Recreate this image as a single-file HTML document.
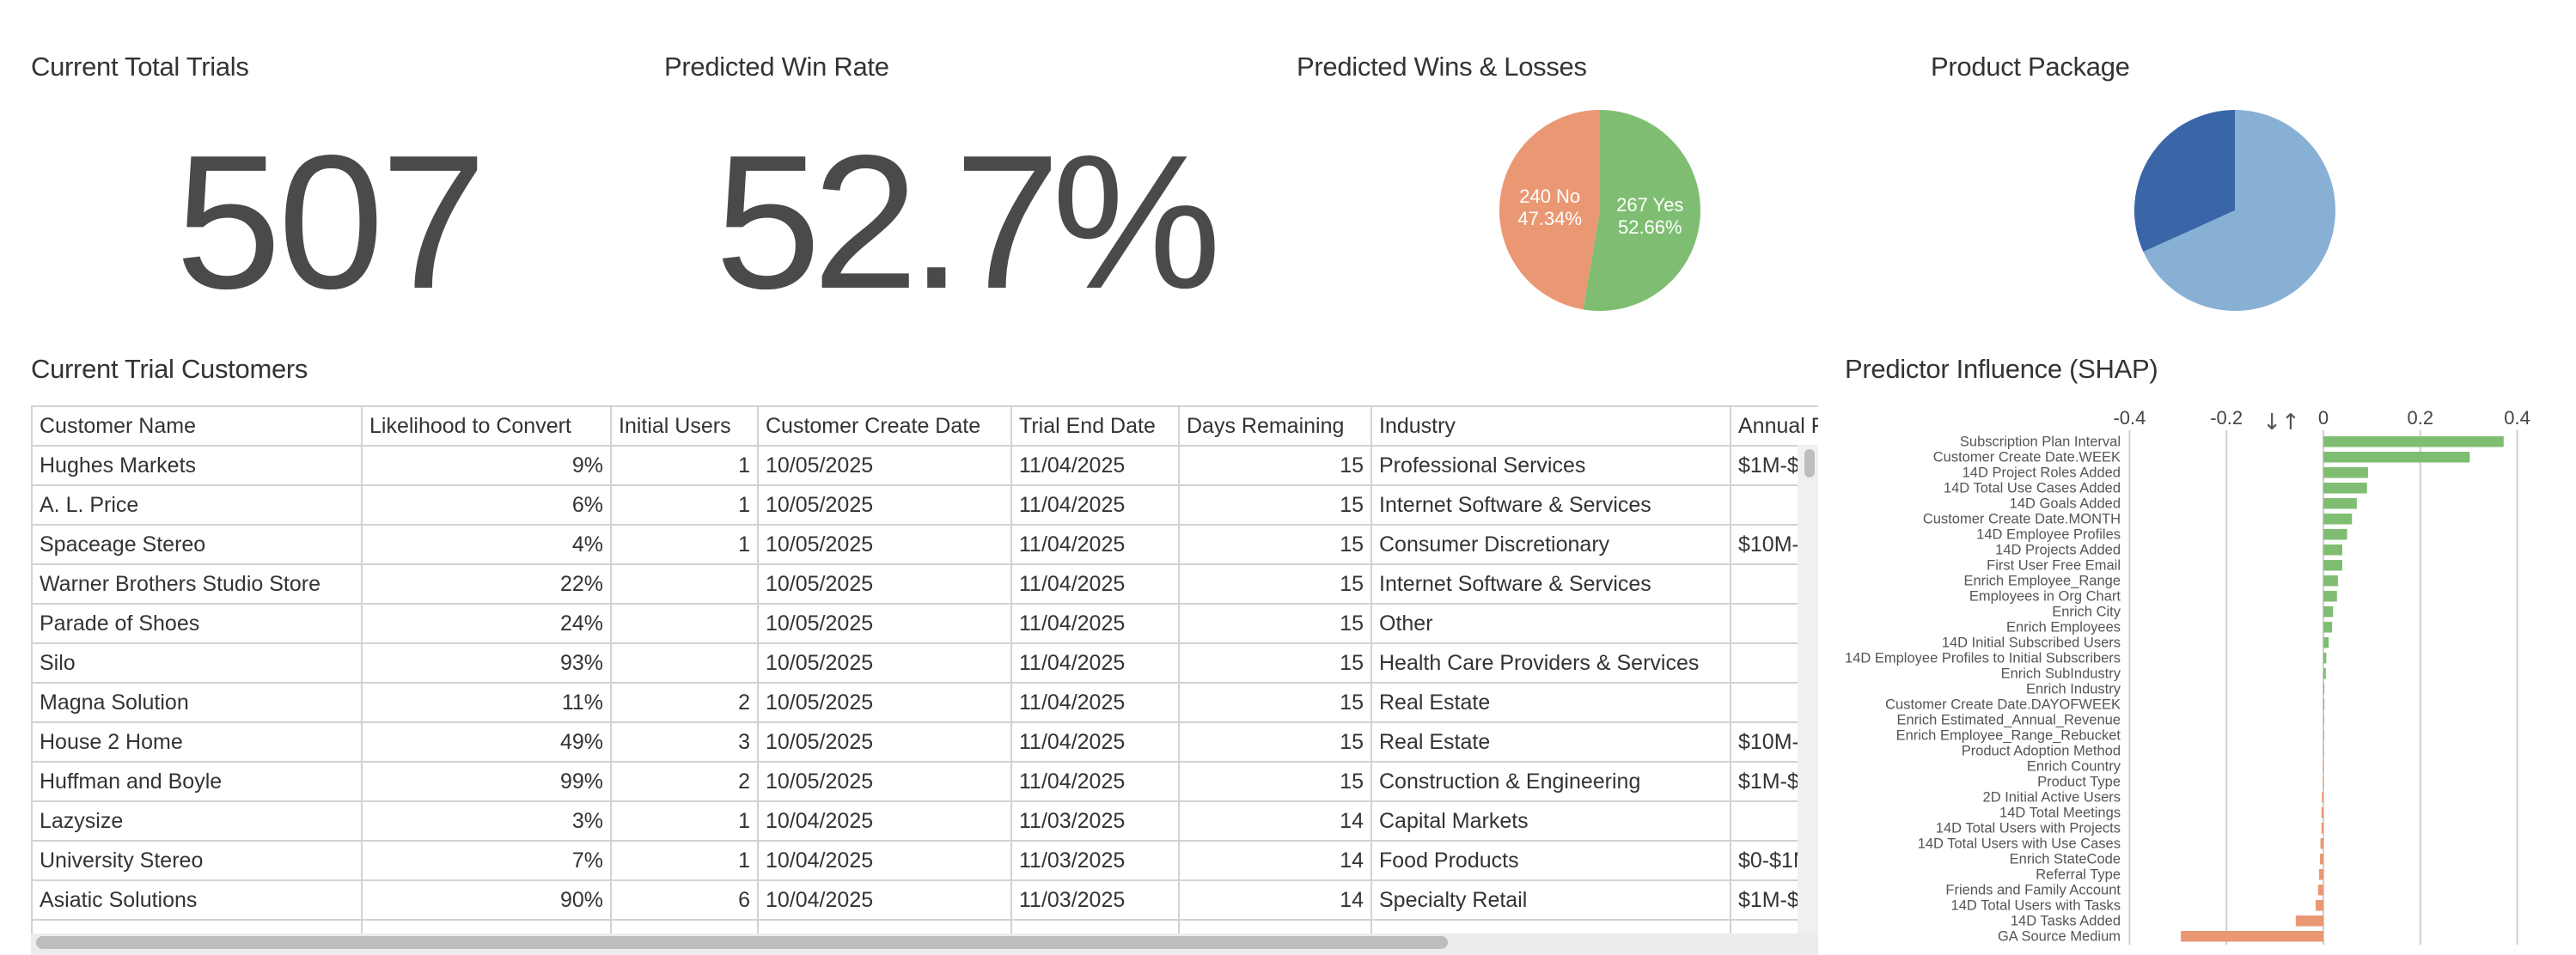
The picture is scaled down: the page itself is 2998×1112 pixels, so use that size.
<!DOCTYPE html>
<html><head><meta charset="utf-8">
<style>
html,body{margin:0;padding:0;background:#fff;width:2998px;height:1112px;overflow:hidden;font-family:"Liberation Sans",sans-serif;color:#333}
.abs{position:absolute}
.title{position:absolute;font-size:31px;color:#333;white-space:nowrap;letter-spacing:-0.3px}
.big{position:absolute;font-size:222px;color:#4a4a4a;line-height:1;white-space:nowrap;letter-spacing:-4px}
#tablewrap{position:absolute;left:36px;top:472px;width:2080px;height:640px;overflow:hidden;background:#fff}
table{border-collapse:collapse;table-layout:fixed;width:2180px;font-size:25px;color:#333}
td,th{border:2px solid #d2d2d2;height:44px;padding:0 8px;white-space:nowrap;overflow:hidden;font-weight:normal;text-align:left}
th{color:#333}
td.r{text-align:right}
</style></head><body>
<div class="title" style="left:36px;top:60px">Current Total Trials</div>
<div class="big" style="left:204px;top:148px">507</div>
<div class="title" style="left:773px;top:60px">Predicted Win Rate</div>
<div class="big" style="left:832px;top:148px;letter-spacing:-10px">52.7%</div>
<div class="title" style="left:1509px;top:60px">Predicted Wins &amp; Losses</div>
<div class="title" style="left:2247px;top:60px">Product Package</div>
<div class="title" style="left:36px;top:412px">Current Trial Customers</div>
<div class="title" style="left:2147px;top:412px">Predictor Influence (SHAP)</div>

<svg class="abs" style="left:0;top:0" width="2998" height="1112" id="charts"></svg>

<div id="tablewrap">
<table id="tbl">
<colgroup><col style="width:384px"><col style="width:290px"><col style="width:171px"><col style="width:295px"><col style="width:195px"><col style="width:224px"><col style="width:418px"><col style="width:203px"></colgroup>
<thead><tr>
<th>Customer Name</th>
<th>Likelihood to Convert</th>
<th>Initial Users</th>
<th>Customer Create Date</th>
<th>Trial End Date</th>
<th>Days Remaining</th>
<th>Industry</th>
<th>Annual Revenue</th>
</tr></thead>
<tbody id="tbody"></tbody>
</table>
</div>
<div class="abs" style="left:2092px;top:518px;width:24px;height:570px;background:#f0f0f0"></div>
<div class="abs" style="left:2100px;top:523px;width:12px;height:33px;background:#bdbdbd;border-radius:6px"></div>
<div class="abs" style="left:36px;top:1087px;width:2080px;height:25px;background:#ececec"></div>
<div class="abs" style="left:42px;top:1090px;width:1643px;height:15px;background:#bdbdbd;border-radius:8px"></div>

<script>
const rows = [
["Hughes Markets","9%","1","10/05/2025","11/04/2025","15","Professional Services","$1M-$10M"],
["A. L. Price","6%","1","10/05/2025","11/04/2025","15","Internet Software & Services",""],
["Spaceage Stereo","4%","1","10/05/2025","11/04/2025","15","Consumer Discretionary","$10M-$50M"],
["Warner Brothers Studio Store","22%","","10/05/2025","11/04/2025","15","Internet Software & Services",""],
["Parade of Shoes","24%","","10/05/2025","11/04/2025","15","Other",""],
["Silo","93%","","10/05/2025","11/04/2025","15","Health Care Providers & Services",""],
["Magna Solution","11%","2","10/05/2025","11/04/2025","15","Real Estate",""],
["House 2 Home","49%","3","10/05/2025","11/04/2025","15","Real Estate","$10M-$50M"],
["Huffman and Boyle","99%","2","10/05/2025","11/04/2025","15","Construction & Engineering","$1M-$10M"],
["Lazysize","3%","1","10/04/2025","11/03/2025","14","Capital Markets",""],
["University Stereo","7%","1","10/04/2025","11/03/2025","14","Food Products","$0-$1M"],
["Asiatic Solutions","90%","6","10/04/2025","11/03/2025","14","Specialty Retail","$1M-$10M"],
["","","","","","","",""]
];
const tb = document.getElementById('tbody');
rows.forEach((r,i)=>{
  const tr=document.createElement('tr');
  
  
  r.forEach((v,j)=>{
    const td=document.createElement('td');
    
    
    if(j==1||j==2||j==5) td.className='r';
    td.textContent=v;
    tr.appendChild(td);
  });
  tb.appendChild(tr);
});

const winLabels = ["Yes","No"];
const winValues = [267,240];
const pkgLabels = ["Package A","Package B"];
const pkgValues = [346,161];
const shapFeatures = ["Subscription Plan Interval","Customer Create Date.WEEK","14D Project Roles Added","14D Total Use Cases Added","14D Goals Added","Customer Create Date.MONTH","14D Employee Profiles","14D Projects Added","First User Free Email","Enrich Employee_Range","Employees in Org Chart","Enrich City","Enrich Employees","14D Initial Subscribed Users","14D Employee Profiles to Initial Subscribers","Enrich SubIndustry","Enrich Industry","Customer Create Date.DAYOFWEEK","Enrich Estimated_Annual_Revenue","Enrich Employee_Range_Rebucket","Product Adoption Method","Enrich Country","Product Type","2D Initial Active Users","14D Total Meetings","14D Total Users with Projects","14D Total Users with Use Cases","Enrich StateCode","Referral Type","Friends and Family Account","14D Total Users with Tasks","14D Tasks Added","GA Source Medium"];
const shapValues = [0.372,0.302,0.092,0.090,0.069,0.059,0.049,0.039,0.039,0.030,0.028,0.020,0.018,0.011,0.006,0.005,0.002,0.002,0.001,0.0005,-0.0005,-0.001,-0.001,-0.003,-0.004,-0.004,-0.006,-0.007,-0.009,-0.011,-0.016,-0.057,-0.294];
const shapTicks = [-0.4,-0.2,0,0.2,0.4];

const NS="http://www.w3.org/2000/svg";
const svg=document.getElementById('charts');
function mk(tag,attrs,parent){const e=document.createElementNS(NS,tag);for(const k in attrs)e.setAttribute(k,attrs[k]);(parent||svg).appendChild(e);return e;}

function pie(cx,cy,r,values,colors,name,labels,showLabels){
  const g=mk('g',{});
  
  
  const total=values.reduce((a,b)=>a+b,0);
  let a0=0;
  values.forEach((v,i)=>{
    const a1=a0+v/total*2*Math.PI;
    const x0=cx+r*Math.sin(a0),y0=cy-r*Math.cos(a0),x1=cx+r*Math.sin(a1),y1=cy-r*Math.cos(a1);
    const large=(a1-a0)>Math.PI?1:0;
    const p=mk('path',{d:`M${cx},${cy}L${x0},${y0}A${r},${r} 0 ${large} 1 ${x1},${y1}Z`,fill:colors[i]},g);
    
    
    if(showLabels){
      const mid=(a0+a1)/2;
      const lx=cx+r*0.5*Math.sin(mid), ly=cy-r*0.5*Math.cos(mid);
      const t=mk('text',{x:lx,y:ly-4,'text-anchor':'middle','font-size':22,fill:'#fff','font-family':'Liberation Sans, sans-serif'},g);
      
      
      const t1=mk('tspan',{x:lx,dy:0},t); t1.textContent=values[i]+' '+labels[i];
      const t2=mk('tspan',{x:lx,dy:26},t); t2.textContent=(v/total*100).toFixed(2)+'%';
    }
    a0=a1;
  });
}
pie(1862,245,117,winValues,['#7fbe72','#ea9874'],'wins-losses-pie',winLabels,true);
pie(2601,245,117,pkgValues,['#87b0d4','#3a66a8'],'product-package-pie',pkgLabels,false);

const x0=2704, unit=564;
const xs=v=>x0+v*unit;
const yTop=508, step=18, barH=12.5;
const ys=i=>yTop+i*step;
shapTicks.forEach(t=>{
  const l=mk('line',{x1:xs(t),x2:xs(t),y1:501,y2:1100,stroke:'#cfcfcf','stroke-width':2});
  
  
  const tx=mk('text',{x:xs(t),y:494,'text-anchor':'middle','font-size':22,fill:'#444','font-family':'Liberation Sans, sans-serif'});
  
  
  tx.textContent=t===0?'0':String(t);
});
const sortIcon=mk('text',{x:2655,y:500,'text-anchor':'middle','font-size':26,fill:'#555','font-family':'DejaVu Sans, sans-serif'});


sortIcon.textContent='↓↑';
shapFeatures.forEach((f,i)=>{
  const v=shapValues[i];
  const x=Math.min(xs(0),xs(v)), w=Math.max(Math.abs(xs(v)-xs(0)),0.8);
  const b=mk('rect',{x:x,y:ys(i),width:w,height:barH,fill:v>=0?'#7fbe72':'#ea9874'});
  
  
  const t=mk('text',{x:2468,y:ys(i)+barH-1,'text-anchor':'end','font-size':16.5,fill:'#555','font-family':'Liberation Sans, sans-serif'});
  
  
  t.textContent=f;
});
</script>
</body></html>
